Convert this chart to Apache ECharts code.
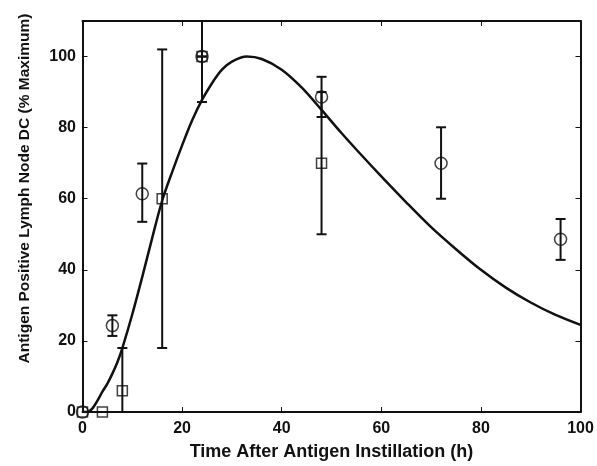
<!DOCTYPE html>
<html>
<head>
<meta charset="utf-8">
<script src="https://cdn.jsdelivr.net/npm/echarts@6/dist/echarts.min.js"></script>
<style>
  html, body { margin: 0; padding: 0; background: #fff; }
  #chart { width: 597px; height: 466px; }
</style>
</head>
<body>
<div id="chart"></div>
<script>
// 圆点数据 (circles) 及误差范围
var circleTime = [0, 6, 12, 24, 48, 72, 96];
var circleValue = [0, 24.3, 61.4, 100, 88.6, 70, 48.6];
var circleLow = [0, 21.4, 53.5, 87.2, 83, 60, 42.8];
var circleHigh = [0, 27.2, 69.9, 112.8, 94.3, 80.1, 54.3];

// 方块数据 (squares) 及误差范围
var squareTime = [0, 4, 8, 16, 24, 48];
var squareValue = [0, 0, 6, 60, 100, 70];
var squareLow = [0, 0, -6, 18, 100, 50];
var squareHigh = [0, 0, 18, 102, 100, 90];

// 模型曲线
var curveTime = [0, 1, 2, 3, 4, 5, 6, 7, 8, 10, 12, 14, 16, 18, 20, 22, 24, 26, 28, 30, 33, 36, 40, 44, 48, 52, 56, 60, 65, 70, 75, 80, 85, 90, 95, 100];
var curveValue = [0, 0, 1, 3.2, 5.7, 8, 10.8, 14, 18, 27.5, 38, 49, 59.5, 67.5, 75, 82, 87.8, 92.5, 96.3, 98.6, 100, 99.3, 96.3, 91.3, 85, 78.5, 72.3, 66.3, 59, 52, 45.8, 40, 35, 30.8, 27.3, 24.5];

var xTicks = [0, 20, 40, 60, 80, 100];
var yTicks = [0, 20, 40, 60, 80, 100];

function zip(a, b, c, d) {
  var out = [];
  for (var i = 0; i < a.length; i++) {
    out.push(c ? [a[i], b[i], c[i], d[i]] : [a[i], b[i]]);
  }
  return out;
}

var ink = '#111';
var font = 'Liberation Sans, Arial, sans-serif';

function errorBar(params, api) {
  var x = api.value(0);
  var lo = api.coord([x, api.value(2)]);
  var hi = api.coord([x, api.value(3)]);
  var w = 5;
  var st = { stroke: ink, lineWidth: 2 };
  return {
    type: 'group',
    children: [
      { type: 'line', shape: { x1: lo[0], y1: lo[1], x2: hi[0], y2: hi[1] }, style: st },
      { type: 'line', shape: { x1: lo[0] - w, y1: lo[1], x2: lo[0] + w, y2: lo[1] }, style: st },
      { type: 'line', shape: { x1: hi[0] - w, y1: hi[1], x2: hi[0] + w, y2: hi[1] }, style: st }
    ]
  };
}

var chart = echarts.init(document.getElementById('chart'));

var axisBase = {
  min: 0,
  interval: 20,
  axisLine: { show: true, onZero: false, lineStyle: { color: ink, width: 2 } },
  axisTick: { show: true, inside: true, length: 5, lineStyle: { color: ink, width: 1 } },
  splitLine: { show: false }
};

chart.setOption({
  animation: false,
  backgroundColor: '#fff',
  grid: { left: 82.5, right: 16.5, top: 21, bottom: 52.7, containLabel: false },
  xAxis: [
    Object.assign({}, axisBase, {
      type: 'value', max: 100, position: 'bottom',
      name: 'Time After Antigen Instillation (h)',
      nameLocation: 'middle', nameGap: 31,
      nameTextStyle: { color: ink, fontSize: 18, fontWeight: 'bold', fontFamily: font },
      axisLabel: {
        color: ink, fontSize: 16, fontWeight: 'bold', fontFamily: font, margin: 9,
        formatter: function (v) { return xTicks.indexOf(v) >= 0 ? v : ''; }
      }
    }),
    Object.assign({}, axisBase, {
      type: 'value', max: 100, position: 'top', axisLabel: { show: false }
    })
  ],
  yAxis: [
    Object.assign({}, axisBase, {
      type: 'value', max: 110, position: 'left',
      name: 'Antigen Positive Lymph Node DC (% Maximum)',
      nameLocation: 'middle', nameGap: 50, nameRotate: 90,
      nameTextStyle: {
        color: ink, fontSize: 15.5, fontWeight: 'bold', fontFamily: font,
        padding: [0, 0, 0, 56]
      },
      axisLabel: {
        color: ink, fontSize: 16, fontWeight: 'bold', fontFamily: font, margin: 6.5,
        formatter: function (v) { return yTicks.indexOf(v) >= 0 ? v : ''; }
      }
    }),
    Object.assign({}, axisBase, {
      type: 'value', max: 110, position: 'right', axisLabel: { show: false }
    })
  ],
  series: [
    {
      type: 'line', name: 'model',
      data: zip(curveTime, curveValue),
      showSymbol: false, smooth: 0.3,
      lineStyle: { color: ink, width: 2.5 },
      z: 3
    },
    {
      type: 'custom', name: 'circleErr',
      data: zip(circleTime, circleValue, circleLow, circleHigh),
      renderItem: errorBar, clip: true, z: 4
    },
    {
      type: 'custom', name: 'squareErr',
      data: zip(squareTime, squareValue, squareLow, squareHigh),
      renderItem: errorBar, clip: true, z: 4
    },
    {
      type: 'scatter', name: 'circles',
      data: zip(circleTime, circleValue),
      symbol: 'circle', symbolSize: 12, clip: false,
      itemStyle: { color: 'rgba(0,0,0,0)', borderColor: ink, borderWidth: 1.5 },
      z: 5
    },
    {
      type: 'scatter', name: 'squares',
      data: zip(squareTime, squareValue),
      symbol: 'rect', symbolSize: 10, clip: false,
      itemStyle: { color: 'rgba(0,0,0,0)', borderColor: ink, borderWidth: 1.5 },
      z: 5
    }
  ]
});
</script>
</body>
</html>
